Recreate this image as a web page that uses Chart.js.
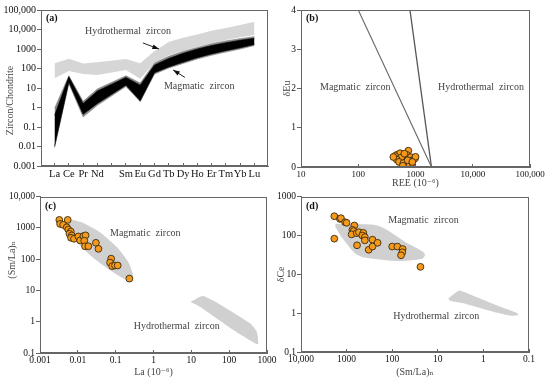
<!DOCTYPE html>
<html>
<head>
<meta charset="utf-8">
<script src="https://cdn.jsdelivr.net/npm/chart.js@4.4.1/dist/chart.umd.min.js"></script>
<style>
    html, body { margin: 0; padding: 0; background: #fff; }
    #wrap { position: relative; width: 550px; height: 381px; overflow: hidden; }
    canvas { position: absolute; }
</style>
</head>
<body>
<div id="wrap">
    <canvas id="chartA" width="280" height="190" style="left:0;top:0"></canvas>
    <canvas id="chartB" width="275" height="190" style="left:275px;top:0"></canvas>
    <canvas id="chartC" width="285" height="191" style="left:0;top:190px"></canvas>
    <canvas id="chartD" width="275" height="191" style="left:275px;top:190px"></canvas>
</div>
<script>
// (a) Chondrite-normalised REE patterns (Pm has no value)
const reeLabels = ['La', 'Ce', 'Pr', 'Nd', '', 'Sm', 'Eu', 'Gd', 'Tb', 'Dy', 'Ho', 'Er', 'Tm', 'Yb', 'Lu'];
const hydroUpper = [185, 320, 180, 210, null, 310, 185, 800, 2300, 3800, 5600, 8700, 12000, 17000, 25000];
const hydroLower = [32, 75, 52, 46, null, 84, 30, 200, 480, 820, 1300, 1950, 2900, 4000, 5200];
const magHaloUpper = [0.9, 42, 2.1, 9, null, 42, 18, 190, 420, 750, 1200, 1850, 2600, 3400, 4300];
const magHaloLower = [0.009, 17, 0.33, 1.3, null, 12, 2.0, 52, 105, 180, 310, 480, 700, 1000, 1500];
const magUpper = [0.4, 38, 1.6, 7, null, 35, 14, 150, 330, 600, 1000, 1500, 2100, 2800, 3600];
const magLower = [0.01, 20, 0.45, 1.6, null, 14, 2.2, 60, 120, 210, 360, 560, 820, 1150, 1700];
const chondriteTicks = [0.001, 0.01, 0.1, 1, 10, 100, 1000, 10000, 100000];

// (b) REE vs dEu
const bRee = [470, 537, 615, 750, 703, 830, 910, 800, 660, 980, 575, 855, 700, 439, 560, 470, 515, 615, 730, 1000, 410, 640, 880, 600];
const bEu = [0.31, 0.35, 0.26, 0.415, 0.31, 0.25, 0.18, 0.135, 0.135, 0.22, 0.2, 0.094, 0.05, 0.28, 0.24, 0.19, 0.13, 0.1, 0.17, 0.26, 0.255, 0.34, 0.13, 0.03];
const bLine1Ree = [100, 1900];
const bLine2Ree = [800, 1900];
const bLineEu = [4, 0];
const bXTicks = [10, 100, 1000, 10000, 100000];
const bYTicks = [0, 1, 2, 3, 4];

// (c) La vs (Sm/La)N
const cLa = [0.00324, 0.0054, 0.0034, 0.0041, 0.0051, 0.0056, 0.0065, 0.006, 0.0069, 0.0066, 0.0079, 0.0103, 0.0115, 0.014, 0.016, 0.0148, 0.0155, 0.019, 0.030, 0.035, 0.076, 0.071, 0.081, 0.096, 0.113, 0.23];
const cSmLa = [1810, 1810, 1350, 1260, 1050, 890, 770, 650, 575, 485, 450, 535, 400, 550, 580, 390, 260, 260, 335, 215, 104, 78, 60, 63, 63, 24];
const cMagLa = [0.0058, 0.0126, 0.0385, 0.107, 0.216, 0.29, 0.27, 0.16, 0.071, 0.0315, 0.014, 0.0076, 0.0054, 0.0051, 0.0058];
const cMagSmLa = [1950, 1520, 730, 244, 81, 30, 19, 24, 44, 91, 214, 505, 1050, 1630, 1950];
const cHydLa = [9.6, 21, 355, 535, 590, 535, 129, 17, 9.6];
const cHydSmLa = [4.3, 6.6, 0.89, 0.48, 0.2, 0.19, 0.54, 3.0, 4.3];
const cXTicks = [0.001, 0.01, 0.1, 1, 10, 100, 1000];
const cYTicks = [0.1, 1, 10, 100, 1000, 10000];

// (d) (Sm/La)N vs dCe
const dSmLa = [1860, 1400, 1330, 1080, 1000, 676, 1860, 748, 700, 776, 600, 537, 430, 452, 398, 398, 590, 328, 270, 270, 209, 100, 77, 59, 60, 64, 24];
const dCe = [314, 268, 280, 220, 212, 181, 83, 140, 130, 107, 115, 122, 117, 100, 91, 75, 56, 43, 78, 52, 65, 52, 52, 45, 37, 31, 15.6];
const dMagSmLa = [1740, 238, 144, 44, 21, 19, 22, 87, 400, 660, 1290, 1770, 1740];
const dMagCe = [200, 188, 150, 61, 38, 31, 25, 22, 27, 35, 91, 170, 200];
const dHydSmLa = [5.9, 3.5, 2.75, 0.43, 0.186, 0.17, 0.26, 0.85, 2.75, 5.4, 5.9];
const dHydCe = [2.4, 3.8, 3.55, 1.47, 1.03, 0.9, 0.865, 1.21, 1.8, 2.1, 2.4];
const dXTicks = [0.1, 1, 10, 100, 1000, 10000];
const dYTicks = [0.1, 1, 10, 100, 1000];

Chart.defaults.font.family = '"Liberation Serif", "DejaVu Serif", serif';
Chart.defaults.color = '#111';
Chart.defaults.animation = false;

const AXIS = '#666';
const ORANGE = '#f59a1b';
const EM = '\u2003'; // used to nudge rotated titles off-centre

// helpers
const series = vals => vals.map((y, i) => ({ x: i, y })).filter(p => p.y !== null);
const pairs = (xs, ys) => xs.map((x, i) => ({ x, y: ys[i] }));
const fmt = v => v >= 10000 ? v.toLocaleString('en-US') : String(v);

function points(xs, ys) {
    return {
        data: pairs(xs, ys),
        pointRadius: 3.4,
        pointBackgroundColor: ORANGE,
        pointBorderColor: '#3a2a10',
        pointBorderWidth: 0.9,
        showLine: false
    };
}

function polygon(xs, ys) {
    return {
        data: pairs(xs, ys),
        showLine: true,
        fill: 'shape',
        backgroundColor: '#d0d0d0',
        borderWidth: 0,
        pointRadius: 0,
        tension: 0.2
    };
}

// Axis builder: x axes get inward ticks, y axes outward ticks
function axis(kind, cfg) {
    const isX = kind === 'x';
    return {
        type: cfg.type,
        min: cfg.min,
        max: cfg.max,
        reverse: !!cfg.reverse,
        border: { color: AXIS, width: 1 },
        grid: { drawOnChartArea: false, color: AXIS, tickLength: isX ? -3 : 4 },
        ticks: {
            font: { size: cfg.fontSize || 9.5 },
            padding: isX ? 5 : 1,
            maxRotation: 0,
            autoSkip: false,
            callback: cfg.labels ? (v => cfg.labels[v] ?? '') : fmt
        },
        title: {
            display: !!cfg.title,
            text: cfg.title,
            color: '#444',
            font: { size: 10 },
            padding: cfg.titlePad
        },
        afterBuildTicks: s => { s.ticks = cfg.ticks.map(value => ({ value })); },
        afterFit: s => { if (isX) s.height = cfg.size; else s.width = cfg.size; }
    };
}

// Frame, panel tag, notes and arrows
const marksPlugin = {
    id: 'marks',
    afterDatasetsDraw(chart, args, opts) {
        const { ctx, chartArea: a, scales: { x, y } } = chart;
        ctx.save();
        ctx.strokeStyle = AXIS;
        ctx.lineWidth = 1;
        const l = Math.round(a.left) + 0.5, r = Math.round(a.right) - 0.5;
        const t = Math.round(a.top) + 0.5, b = Math.round(a.bottom) - 0.5;
        ctx.strokeRect(l, t, r - l, b - t);

        ctx.fillStyle = '#111';
        ctx.font = 'bold 10px "Liberation Serif", serif';
        ctx.textBaseline = 'middle';
        ctx.fillText(opts.tag, a.left + 5, a.top + opts.tagDy);

        ctx.fillStyle = '#444';
        ctx.font = '10px "Liberation Serif", serif';
        (opts.notes || []).forEach(n => {
            ctx.fillText(n.text, x.getPixelForValue(n.x), y.getPixelForValue(n.y));
        });

        ctx.strokeStyle = '#222';
        ctx.fillStyle = '#111';
        (opts.arrows || []).forEach(ar => {
            const x1 = x.getPixelForValue(ar.x1), y1 = y.getPixelForValue(ar.y1);
            const x2 = x.getPixelForValue(ar.x2), y2 = y.getPixelForValue(ar.y2);
            const ang = Math.atan2(y2 - y1, x2 - x1);
            ctx.beginPath();
            ctx.moveTo(x1, y1);
            ctx.lineTo(x2, y2);
            ctx.stroke();
            ctx.beginPath();
            ctx.moveTo(x2, y2);
            ctx.lineTo(x2 - 7 * Math.cos(ang - 0.35), y2 - 7 * Math.sin(ang - 0.35));
            ctx.lineTo(x2 - 7 * Math.cos(ang + 0.35), y2 - 7 * Math.sin(ang + 0.35));
            ctx.closePath();
            ctx.fill();
        });
        ctx.restore();
    }
};

function baseOptions(padding, scales, marks) {
    return {
        responsive: false,
        layout: { padding },
        plugins: { legend: { display: false }, tooltip: { enabled: false }, marks },
        scales
    };
}

// (a)
new Chart(document.getElementById('chartA'), {
    type: 'scatter',
    data: {
        datasets: [
            { data: series(magUpper), fill: '+1', backgroundColor: '#000', borderColor: '#000', borderWidth: 0.6 },
            { data: series(magLower), borderColor: '#000', borderWidth: 0.6 },
            { data: series(magHaloUpper), fill: '+1', backgroundColor: '#8a8a8a', borderColor: '#777', borderWidth: 0.6 },
            { data: series(magHaloLower), borderColor: '#777', borderWidth: 0.6 },
            { data: series(hydroUpper), fill: '+1', backgroundColor: '#d6d6d6', borderWidth: 0 },
            { data: series(hydroLower), borderWidth: 0 }
        ].map(d => Object.assign({ showLine: true, pointRadius: 0 }, d))
    },
    options: baseOptions({ left: 0, right: 12, top: 10, bottom: 0 }, {
        x: axis('x', { type: 'linear', min: -0.95, max: 14.95, ticks: reeLabels.map((_, i) => i), labels: reeLabels, fontSize: 10.5, size: 24 }),
        y: axis('y', { type: 'logarithmic', min: 0.001, max: 100000, ticks: chondriteTicks, fontSize: 10, title: 'Zircon/Chondrite' + EM + EM + '\u2002', titlePad: { top: 4 }, size: 41 })
    }, {
        tag: '(a)', tagDy: 8,
        notes: [
            { text: 'Hydrothermal  zircon', x: 2.13, y: 8300 },
            { text: 'Magmatic  zircon', x: 7.66, y: 12.6 }
        ],
        arrows: [
            { x1: 6.19, y1: 2040, x2: 7.31, y2: 1000 },
            { x1: 9.13, y1: 35, x2: 8.31, y2: 84 }
        ]
    }),
    plugins: [marksPlugin]
});

// (b)
new Chart(document.getElementById('chartB'), {
    type: 'scatter',
    data: {
        datasets: [
            points(bRee, bEu),
            { data: pairs(bLine1Ree, bLineEu), showLine: true, borderColor: '#666', borderWidth: 1.1, pointRadius: 0 },
            { data: pairs(bLine2Ree, bLineEu), showLine: true, borderColor: '#555', borderWidth: 1.3, pointRadius: 0 }
        ]
    },
    options: baseOptions({ left: 0, right: 20, top: 10, bottom: 0 }, {
        x: axis('x', { type: 'logarithmic', min: 10, max: 100000, ticks: bXTicks, fontSize: 9, title: 'REE (10⁻⁶)', titlePad: { bottom: 1 }, size: 23 }),
        y: axis('y', { type: 'linear', min: 0, max: 4, ticks: bYTicks, fontSize: 9.5, title: 'δEu', titlePad: { top: 6 }, size: 26 })
    }, {
        tag: '(b)', tagDy: 8,
        notes: [
            { text: 'Magmatic  zircon', x: 21.5, y: 2.04 },
            { text: 'Hydrothermal  zircon', x: 2470, y: 2.04 }
        ]
    }),
    plugins: [marksPlugin]
});

// (c)
new Chart(document.getElementById('chartC'), {
    type: 'scatter',
    data: {
        datasets: [
            points(cLa, cSmLa),
            polygon(cMagLa, cMagSmLa),
            polygon(cHydLa, cHydSmLa)
        ]
    },
    options: baseOptions({ left: 0, right: 18, top: 6, bottom: 0 }, {
        x: axis('x', { type: 'logarithmic', min: 0.001, max: 1000, ticks: cXTicks, fontSize: 9.5, title: 'La (10⁻⁶)', titlePad: { bottom: 3 }, size: 28 }),
        y: axis('y', { type: 'logarithmic', min: 0.1, max: 10000, ticks: cYTicks, fontSize: 9.5, title: EM + EM + EM + '(Sm/La)ₙ', titlePad: { top: 6 }, size: 40 })
    }, {
        tag: '(c)', tagDy: 10,
        notes: [
            { text: 'Magmatic  zircon', x: 0.071, y: 650 },
            { text: 'Hydrothermal  zircon', x: 0.30, y: 0.69 }
        ]
    }),
    plugins: [marksPlugin]
});

// (d)
new Chart(document.getElementById('chartD'), {
    type: 'scatter',
    data: {
        datasets: [
            points(dSmLa, dCe),
            polygon(dMagSmLa, dMagCe),
            polygon(dHydSmLa, dHydCe)
        ]
    },
    options: baseOptions({ left: 0, right: 21, top: 6, bottom: 0 }, {
        x: axis('x', { type: 'logarithmic', min: 0.1, max: 10000, reverse: true, ticks: dXTicks, fontSize: 9.5, title: '(Sm/La)ₙ', titlePad: { bottom: 3 }, size: 29 }),
        y: axis('y', { type: 'logarithmic', min: 0.1, max: 1000, ticks: dYTicks, fontSize: 9.5, title: 'δCe', titlePad: { top: 0 }, size: 26 })
    }, {
        tag: '(d)', tagDy: 10,
        notes: [
            { text: 'Magmatic  zircon', x: 122, y: 243 },
            { text: 'Hydrothermal  zircon', x: 95, y: 0.81 }
        ]
    }),
    plugins: [marksPlugin]
});
</script>
</body>
</html>
